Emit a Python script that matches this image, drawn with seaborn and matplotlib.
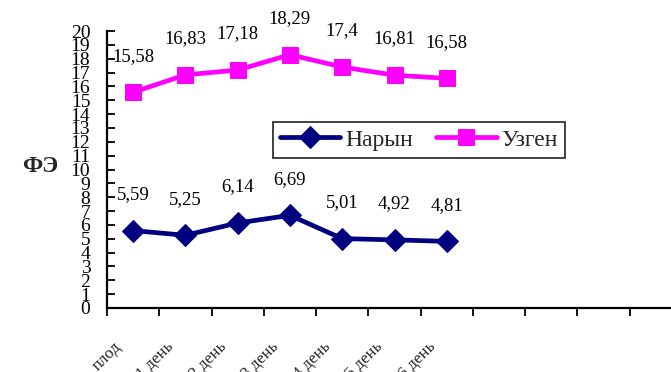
import matplotlib
matplotlib.use("Agg")
import matplotlib.pyplot as plt
import matplotlib.transforms as mtransforms
import seaborn as sns
import pandas as pd
import numpy as np

# Category labels along the x axis
categories = ["плод", "1 день", "2 день", "3 день", "4 день", "5 день", "6 день"]
# Values for each site
naryn = [5.59, 5.25, 6.14, 6.69, 5.01, 4.92, 4.81]
uzgen = [15.58, 16.83, 17.18, 18.29, 17.4, 16.81, 16.58]
series_names = ["Нарын", "Узген"]
y_ticks = list(range(0, 21))

sns.set_theme(style="white")
plt.rcParams["font.family"] = ["Liberation Serif", "DejaVu Serif"]

df = pd.DataFrame({
    "cat": categories * 2,
    "val": naryn + uzgen,
    "site": [series_names[0]] * len(naryn) + [series_names[1]] * len(uzgen),
})

fig = plt.figure(figsize=(6.71, 3.72), dpi=100)
# the category grid runs slightly past the right edge of the figure
ax = fig.add_axes([107 / 671, 64 / 372, 575 / 671, 277 / 372])

colors = {"Нарын": "#000080", "Узген": "#FF00FF"}
markers = {"Нарын": "D", "Узген": "s"}
sizes = {"Нарын": 11, "Узген": 12}

for name in series_names:
    sub = df[df["site"] == name]
    sns.lineplot(data=sub, x="cat", y="val", ax=ax, color=colors[name],
                 marker=markers[name], markersize=sizes[name],
                 markeredgecolor=colors[name], linewidth=3.4, label=name,
                 sort=False)
    for i, v in enumerate(sub["val"]):
        ax.annotate(f"{v:g}".replace(".", ","), (i, v), xytext=(0, 26),
                    textcoords="offset points", ha="center", va="center",
                    fontsize=13.5, color="black")

ax.set_xlim(-0.5, 10.5)
ax.set_ylim(0, 20)
ax.set_yticks(y_ticks)
ax.set_yticklabels([str(t) for t in y_ticks], fontsize=14)
ax.tick_params(axis="y", left=True, direction="in", length=6, width=1.3,
               pad=12, colors="black", labelcolor="black")

ax.set_xticks(range(len(categories)))
ax.set_xticklabels(categories, rotation=45, ha="right", va="top",
                   rotation_mode="anchor", fontsize=12)
ax.tick_params(axis="x", which="major", bottom=False, length=0, pad=22)
ax.set_xticks(np.arange(-0.5, 11, 1.0), minor=True)
ax.tick_params(axis="x", which="minor", bottom=True, direction="out",
               length=6, width=1.3, colors="black")
offset = mtransforms.ScaledTranslation(-14 / 72, 0, fig.dpi_scale_trans)
for lab in ax.get_xticklabels():
    lab.set_transform(lab.get_transform() + offset)

ax.set_xlabel("")
ax.set_ylabel("")
fig.text(40 / 671, 1 - 166 / 372, "ФЭ", fontsize=17, fontweight="bold",
         ha="center", va="center")

for side in ("top", "right"):
    ax.spines[side].set_visible(False)
for side in ("left", "bottom"):
    ax.spines[side].set_color("black")
    ax.spines[side].set_linewidth(1.6)

leg = ax.legend(loc="upper left", bbox_to_anchor=((273 - 107) / 575, (308 - 122) / 277),
                ncol=2, fontsize=17, frameon=True, fancybox=False,
                handlelength=2.55, handletextpad=0.2, columnspacing=1.0,
                borderpad=0.3, borderaxespad=0)
leg.get_frame().set_edgecolor("black")
leg.get_frame().set_linewidth(1.3)

fig.savefig("out.png", dpi=100)
